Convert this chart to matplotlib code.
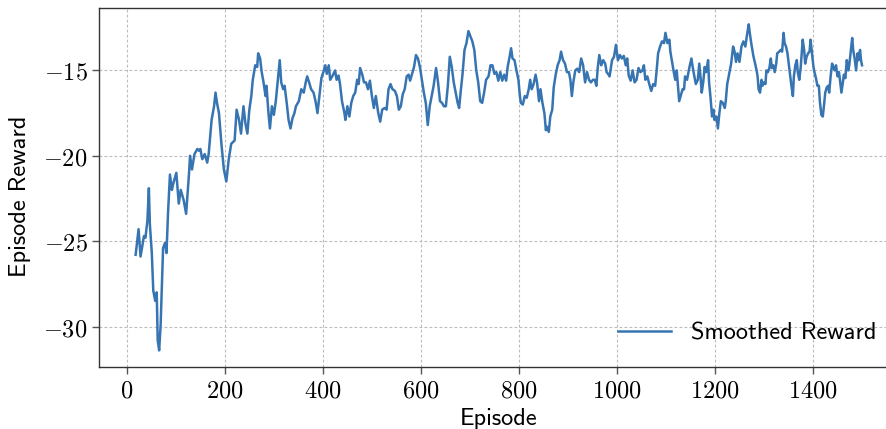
import matplotlib
matplotlib.use("Agg")
import matplotlib.pyplot as plt
from matplotlib.ticker import FuncFormatter

# smoothed reward
episodes = [18, 24, 28, 31, 35, 38, 42, 45, 47, 51, 54, 58, 61, 63, 66, 69, 72, 74, 78, 81,
            84, 88, 92, 95, 101, 106, 110, 116, 121, 127, 129, 133, 138, 144, 147, 150, 154, 159, 164, 167,
            173, 178, 181, 184, 188, 193, 198, 203, 208, 213, 220, 224, 229, 233, 238, 242, 246, 250, 254, 257,
            262, 266, 268, 272, 275, 279, 283, 285, 289, 292, 296, 300, 304, 308, 312, 315, 319, 322, 327, 330,
            334, 338, 342, 345, 351, 356, 361, 365, 368, 372, 376, 381, 385, 389, 393, 397, 401, 405, 408, 412,
            415, 420, 425, 428, 432, 435, 439, 444, 446, 450, 454, 458, 462, 466, 470, 473, 476, 480, 484, 488,
            492, 496, 500, 504, 508, 513, 517, 521, 526, 530, 534, 538, 542, 547, 551, 555, 559, 563, 567, 571,
            575, 578, 582, 586, 590, 594, 598, 602, 606, 610, 614, 618, 622, 626, 631, 635, 639, 643, 647, 651,
            655, 659, 663, 667, 671, 675, 678, 681, 685, 689, 693, 697, 701, 705, 709, 713, 717, 721, 725, 729,
            733, 738, 742, 746, 750, 754, 758, 762, 766, 770, 774, 777, 781, 784, 787, 791, 795, 799, 802, 804,
            808, 812, 816, 820, 823, 826, 830, 834, 837, 841, 844, 848, 852, 855, 857, 861, 864, 868, 871, 875,
            879, 883, 886, 890, 894, 898, 902, 905, 908, 911, 915, 919, 923, 927, 931, 935, 939, 943, 947, 951,
            955, 958, 961, 964, 968, 972, 976, 979, 983, 985, 990, 994, 998, 1002, 1006, 1010, 1014, 1018, 1021, 1024,
            1028, 1032, 1036, 1040, 1044, 1048, 1052, 1055, 1058, 1062, 1066, 1070, 1074, 1078, 1081, 1084, 1088, 1092, 1096, 1099,
            1103, 1107, 1109, 1113, 1116, 1119, 1122, 1124, 1127, 1130, 1134, 1137, 1139, 1143, 1148, 1152, 1154, 1157, 1161, 1165,
            1168, 1171, 1173, 1176, 1179, 1182, 1186, 1188, 1191, 1194, 1197, 1199, 1203, 1206, 1209, 1212, 1216, 1220, 1222, 1225,
            1229, 1233, 1237, 1240, 1243, 1246, 1250, 1254, 1258, 1262, 1266, 1269, 1271, 1274, 1278, 1282, 1285, 1287, 1289, 1292,
            1295, 1297, 1300, 1303, 1305, 1308, 1311, 1314, 1316, 1319, 1322, 1325, 1327, 1331, 1334, 1337, 1340, 1342, 1345, 1348,
            1350, 1353, 1356, 1359, 1361, 1364, 1367, 1369, 1372, 1375, 1379, 1382, 1384, 1387, 1390, 1393, 1395, 1398, 1401, 1403,
            1406, 1409, 1412, 1414, 1417, 1420, 1423, 1425, 1428, 1431, 1433, 1436, 1439, 1442, 1444, 1447, 1450, 1453, 1455, 1458,
            1461, 1463, 1466, 1469, 1472, 1474, 1477, 1480, 1482, 1485, 1488, 1491, 1493, 1496, 1498, 1500]
rewards = [-25.8, -24.3, -25.9, -25.4, -24.7, -24.8, -23.8, -21.9, -24.0, -25.7, -27.9, -28.5, -28.0, -30.8, -31.4, -29.9, -27.1, -25.4, -25.1, -25.7,
           -23.4, -21.1, -22.0, -21.6, -21.0, -22.8, -22.0, -22.6, -23.4, -21.0, -20.0, -20.8, -19.9, -19.6, -19.7, -19.6, -20.2, -19.9, -20.4, -19.9,
           -17.9, -17.1, -16.3, -16.9, -17.5, -19.3, -20.8, -21.5, -20.2, -19.3, -19.1, -17.3, -17.9, -18.7, -17.1, -18.1, -18.7, -17.3, -16.5, -15.55,
           -14.7, -14.8, -14.0, -14.3, -15.06, -15.7, -16.5, -15.9, -17.5, -18.4, -17.1, -17.6, -16.8, -15.6, -14.4, -15.7, -16.1, -15.9, -17.1, -17.9,
           -18.4, -17.8, -17.5, -17.1, -16.8, -16.1, -16.3, -15.7, -15.35, -15.7, -16.1, -16.3, -16.8, -17.5, -16.5, -15.45, -15.1, -14.7, -15.2, -14.7,
           -15.55, -15.3, -15.0, -15.55, -15.3, -15.8, -16.8, -17.5, -17.9, -17.1, -17.7, -16.9, -16.5, -16.3, -15.55, -15.8, -14.86, -15.2, -15.7, -15.7,
           -16.1, -15.6, -16.5, -17.2, -16.5, -17.5, -18.0, -17.3, -17.2, -17.3, -16.1, -15.8, -16.1, -16.2, -16.5, -17.3, -17.1, -16.4, -16.1, -15.35,
           -15.25, -15.6, -15.2, -14.8, -14.1, -14.3, -14.8, -15.55, -16.3, -16.9, -18.2, -17.1, -16.5, -15.9, -14.86, -15.7, -16.8, -16.9, -17.1, -17.1,
           -15.9, -14.2, -14.8, -15.7, -16.3, -16.9, -17.2, -16.3, -15.2, -13.8, -13.4, -12.7, -13.0, -13.3, -13.8, -15.0, -15.7, -16.8, -16.9, -16.3,
           -15.55, -15.35, -14.7, -14.7, -15.2, -15.1, -15.6, -15.1, -15.6, -15.25, -15.6, -14.8, -14.2, -13.7, -14.3, -14.4, -15.0, -15.55, -16.5, -16.9,
           -17.0, -16.5, -16.6, -16.1, -15.55, -16.1, -15.8, -15.25, -15.7, -16.8, -16.1, -16.9, -17.5, -18.5, -18.3, -18.6, -17.7, -17.3, -16.0, -15.25,
           -14.7, -14.4, -13.9, -14.4, -14.6, -15.1, -15.1, -15.55, -16.5, -15.7, -15.0, -14.9, -15.1, -14.3, -14.7, -15.7, -15.1, -15.55, -15.7, -15.55,
           -15.55, -15.9, -14.8, -14.1, -14.7, -14.4, -14.6, -15.1, -15.25, -15.35, -14.4, -14.2, -13.5, -14.4, -14.1, -14.3, -14.15, -14.7, -14.3, -15.3,
           -15.6, -15.0, -15.7, -15.55, -14.86, -15.1, -15.0, -14.7, -15.55, -15.35, -15.8, -16.2, -15.8, -15.9, -15.0, -14.0, -13.6, -13.3, -13.4, -12.8,
           -13.4, -13.2, -13.9, -14.6, -15.1, -15.55, -15.0, -15.7, -16.8, -16.5, -16.1, -16.1, -15.35, -15.55, -14.8, -14.3, -14.7, -15.2, -15.8, -15.55,
           -14.6, -15.55, -16.3, -15.7, -14.8, -15.1, -14.4, -15.7, -16.6, -17.7, -17.3, -17.9, -17.7, -18.4, -17.5, -16.8, -16.9, -17.2, -16.8, -15.8,
           -15.2, -14.6, -13.6, -13.9, -14.5, -14.0, -14.5, -13.6, -13.3, -13.6, -12.8, -12.3, -12.8, -13.4, -14.1, -14.6, -15.0, -15.35, -16.1, -16.3,
           -15.55, -15.9, -15.7, -15.8, -15.0, -15.1, -14.86, -14.3, -14.86, -14.7, -15.1, -14.6, -14.0, -13.9, -13.8, -13.9, -12.8, -13.4, -13.6, -14.0,
           -14.5, -15.2, -15.9, -16.5, -15.35, -14.7, -14.4, -15.1, -15.55, -14.8, -13.2, -13.8, -14.6, -14.2, -14.0, -13.9, -13.2, -14.0, -14.8, -15.1,
           -15.45, -15.9, -15.9, -16.8, -17.6, -17.7, -16.9, -16.3, -16.0, -15.9, -16.3, -15.35, -14.6, -14.86, -15.0, -14.7, -15.35, -15.1, -15.55, -16.3,
           -15.7, -15.25, -15.45, -14.4, -15.0, -14.7, -13.9, -13.1, -13.8, -14.3, -15.0, -14.0, -14.4, -13.8, -14.4, -14.7]

plt.rcParams["mathtext.fontset"] = "cm"
sans = ["cmss10", "DejaVu Sans"]

fig = plt.figure(figsize=(8.86, 4.29), dpi=100)
ax = fig.add_axes([0.1121, 0.1452, 0.9018, 0.8361])

ax.plot(episodes, rewards, color="#3674b2", linewidth=1.8, label="Smoothed Reward")

ax.grid(True, color="#bbbbbb", linestyle=(0, (2.5, 2)), linewidth=0.8)
ax.set_axisbelow(True)

ax.xaxis.set_major_formatter(FuncFormatter(lambda v, p: r"$%d$" % v))
ax.yaxis.set_major_formatter(FuncFormatter(lambda v, p: r"$%d$" % v))
ax.tick_params(labelsize=17.5, color="#555555", width=1.0, length=5)

ax.set_xlabel("Episode", fontsize=17.5, family=sans, labelpad=4)
ax.set_ylabel("Episode Reward", fontsize=17.5, family=sans)
ax.yaxis.set_label_coords(-0.085, 0.474)

for s in ax.spines.values():
    s.set_color("#333333")
    s.set_linewidth(1.0)

ax.legend(loc="lower right", frameon=False, handlelength=2.2,
          prop={"family": sans, "size": 17.5})

fig.savefig("out.png", dpi=100)
